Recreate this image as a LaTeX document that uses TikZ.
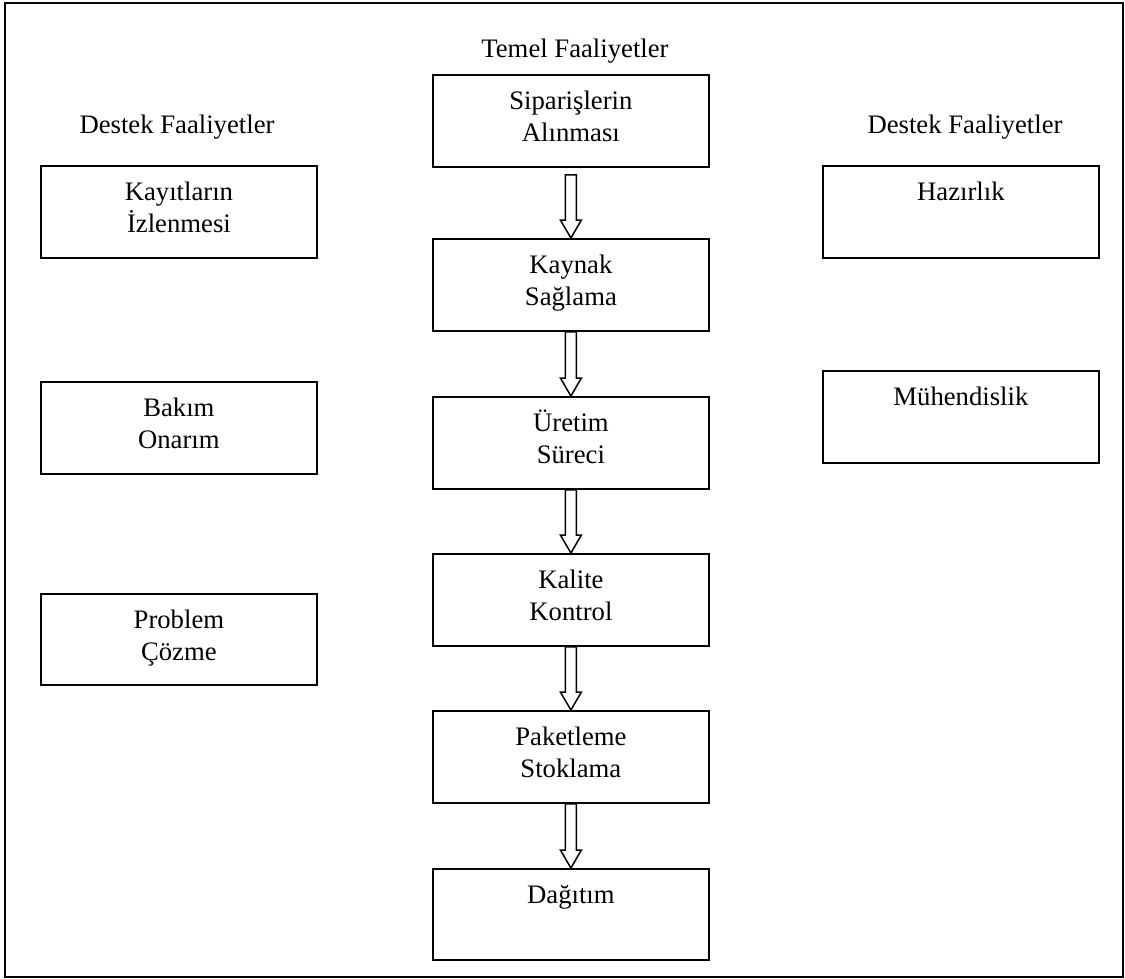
\documentclass[tikz,border=0pt]{standalone}
\usepackage{fontspec}
\setmainfont{Liberation Serif}
\usetikzlibrary{calc}

% two centred lines whose first baseline is the node's baseline
\newcommand\twolines[2]{\begin{tabular}[t]{@{}c@{}}#1\\#2\end{tabular}}

% hollow block arrow from the bottom of #1 to the top of #2, starting #3 below #1
\newcommand\flowarrow[3]{%
  \draw[blockarrow]
    ($(#1.south)+(-5.5,#3)$) -- ($(#2.north)+(-5.5,-18)$) --
    ($(#2.north)+(-10.5,-18)$) -- (#2.north) --
    ($(#2.north)+(10.5,-18)$) -- ($(#2.north)+(5.5,-18)$) --
    ($(#1.south)+(5.5,#3)$) -- cycle;}

\tikzset{
  txtfont/.style={font=\fontsize{26.7pt}{32pt}\selectfont},
  stepbox/.style={draw, line width=1.8pt, inner sep=0pt, anchor=north west,
    minimum width=276pt, text height=35pt, text depth=57pt, txtfont},
  heading/.style={inner sep=0pt, anchor=base, txtfont},
  blockarrow/.style={draw, line width=1.5pt, fill=white, line join=miter},
  frame/.style={draw, line width=1.8pt}
}

\begin{document}
\begin{tikzpicture}[x=1pt, y=-1pt]
  \useasboundingbox (0,0) rectangle (1125,978);
  \draw[frame] (5,3) rectangle (1123,977);

  % column headings
  \node[heading] (temel)  at (575,57)  {Temel Faaliyetler};
  \node[heading] (destL)  at (177,133) {Destek Faaliyetler};
  \node[heading] (destR)  at (965,133) {Destek Faaliyetler};

  % core activities
  \node[stepbox] (sip) at (432,74)  {\twolines{Siparişlerin}{Alınması}};
  \node[stepbox] (kay) at (432,238) {\twolines{Kaynak}{Sağlama}};
  \node[stepbox] (ure) at (432,396) {\twolines{Üretim}{Süreci}};
  \node[stepbox] (kal) at (432,553) {\twolines{Kalite}{Kontrol}};
  \node[stepbox] (pak) at (432,710) {\twolines{Paketleme}{Stoklama}};
  \node[stepbox, text depth=56pt] (dag) at (432,868) {Dağıtım};

  % support activities, left
  \node[stepbox] (kayit) at (40,165) {\twolines{Kayıtların}{İzlenmesi}};
  \node[stepbox] (bakim) at (40,381) {\twolines{Bakım}{Onarım}};
  \node[stepbox, text depth=56pt] (prob) at (40,593) {\twolines{Problem}{Çözme}};

  % support activities, right
  \node[stepbox] (haz) at (822,165) {Hazırlık};
  \node[stepbox] (muh) at (822,370) {Mühendislik};

  % flow between core activities
  \flowarrow{sip}{kay}{7}
  \flowarrow{kay}{ure}{0}
  \flowarrow{ure}{kal}{0}
  \flowarrow{kal}{pak}{0}
  \flowarrow{pak}{dag}{0}
\end{tikzpicture}
\end{document}
